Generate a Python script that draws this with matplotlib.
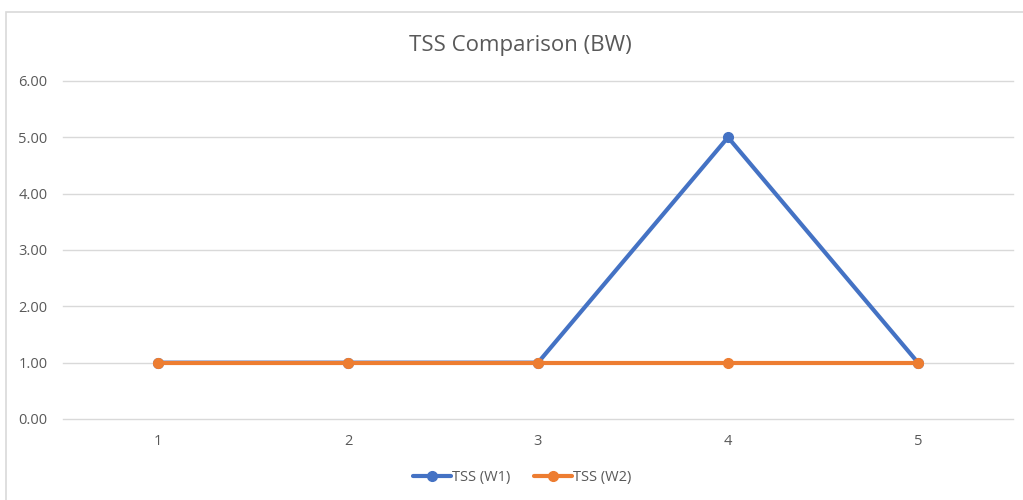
import matplotlib
matplotlib.use("Agg")
import matplotlib.pyplot as plt
from matplotlib.patches import Rectangle

categories = [1, 2, 3, 4, 5]
tss_w1 = [1.0, 1.0, 1.0, 5.0, 1.0]
tss_w2 = [1.0, 1.0, 1.0, 1.0, 1.0]
y_ticks = [0, 1, 2, 3, 4, 5, 6]
title = "TSS Comparison (BW)"

plt.rcParams['font.family'] = ['Open Sans', 'DejaVu Sans']
text_color = '#595959'
grid_color = '#D9D9D9'

fig = plt.figure(figsize=(10.23, 5.0), dpi=100)
W, H = 1023, 500
ax = fig.add_axes([63 / W, 1 - 419 / H, (1013 - 63) / W, (419 - 81) / H])

# chart border
fig.patches.append(Rectangle((6 / W, -0.1), 1.2, 1 - 12 / H + 0.1, transform=fig.transFigure,
                             fill=False, edgecolor='#D9D9D9', linewidth=1.2))

x = list(range(len(categories)))
ax.plot(x, tss_w1, color='#4472C4', linewidth=3.0, marker='o', markersize=7,
        solid_capstyle='round', label='TSS (W1)', zorder=3)
ax.plot(x, tss_w2, color='#ED7D31', linewidth=3.0, marker='o', markersize=7,
        solid_capstyle='round', label='TSS (W2)', zorder=4)

ax.set_xlim(-0.5, len(categories) - 0.5)
ax.set_ylim(0, 6)
ax.set_yticks(y_ticks)
ax.set_yticklabels([f"{v:.2f}" for v in y_ticks])
ax.set_xticks(x)
ax.set_xticklabels([str(c) for c in categories])

for s in ax.spines.values():
    s.set_visible(False)
ax.grid(axis='y', color=grid_color, linewidth=1.0)
for gl in ax.get_ygridlines():
    gl.set_clip_on(False)
ax.set_axisbelow(True)
ax.tick_params(axis='both', length=0, labelsize=10.5, colors=text_color)
ax.tick_params(axis='y', pad=11)
ax.tick_params(axis='x', pad=11)

fig.text(520 / W, 1 - 45 / H, title, ha='center', va='center', fontsize=16, color=text_color)

leg = fig.legend(loc='center', bbox_to_anchor=(522 / W, 1 - 478 / H), ncol=2, frameon=False,
                 fontsize=10.5, handlelength=2.6, columnspacing=1.6, handletextpad=0.1)
for t in leg.get_texts():
    t.set_color(text_color)

fig.savefig('out.png', dpi=100)
